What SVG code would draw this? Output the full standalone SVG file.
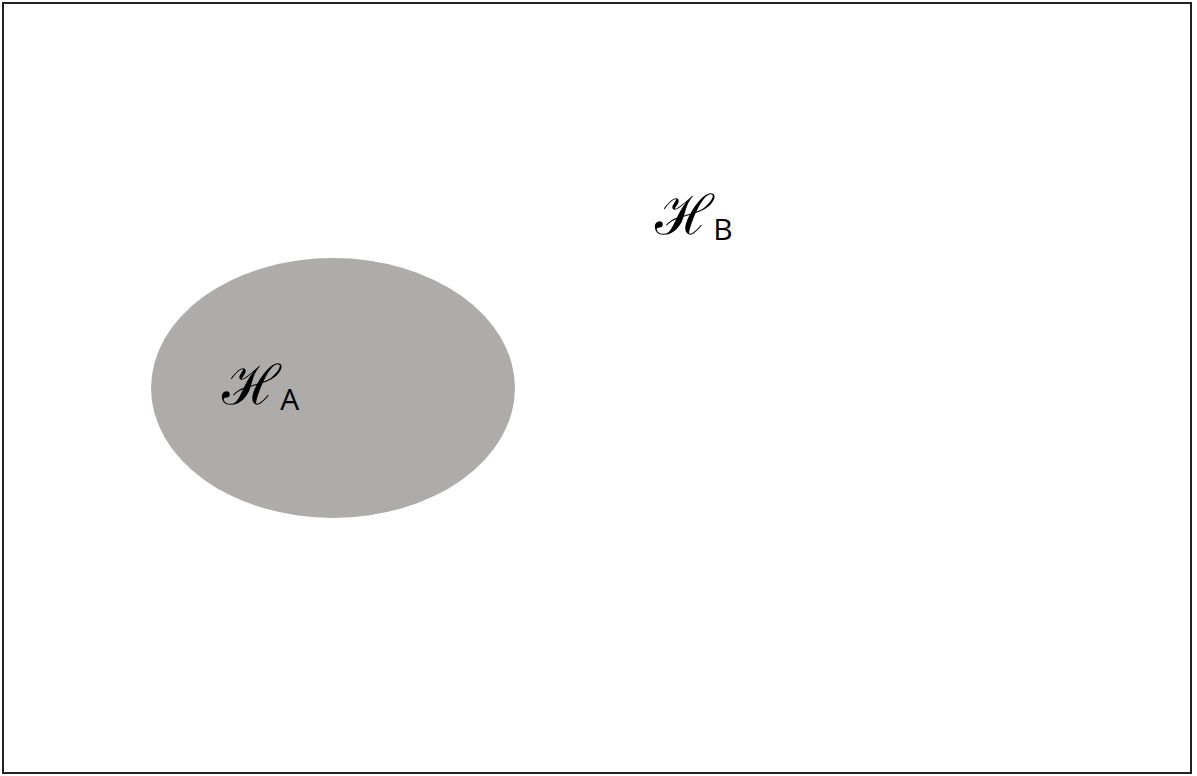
<svg xmlns="http://www.w3.org/2000/svg" width="1197" height="776" viewBox="0 0 1197 776">
<style>
.h{font-family:"DejaVu Serif","Noto Sans",serif;font-style:italic;font-weight:bold;font-size:55px;fill:#000}
.s{font-family:"Open Sans","Liberation Sans",sans-serif;font-style:normal;font-weight:normal;font-size:30px;fill:#000}
</style>
<rect x="0" y="0" width="1197" height="776" fill="#fff"/>
<rect x="3" y="3" width="1188" height="770" fill="none" stroke="#222" stroke-width="2"/>
<g id="setA">
<ellipse cx="333" cy="388" rx="182" ry="130" fill="#aeabab"/>
<text class="h" x="222" y="404">ℋ<tspan class="s" dy="6">A</tspan></text>
</g>
<g id="setB">
<text class="h" x="655" y="234">ℋ<tspan class="s" dy="6">B</tspan></text>
</g>
<g id="connectors"/>
</svg>
